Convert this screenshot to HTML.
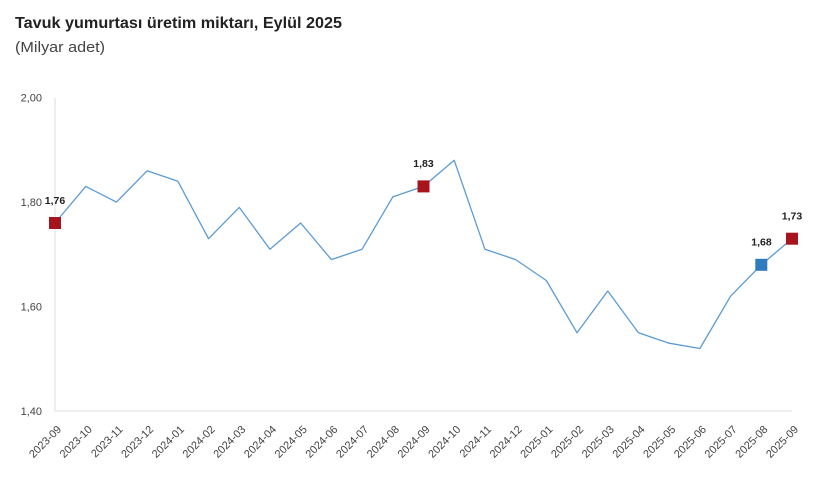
<!DOCTYPE html>
<html><head><meta charset="utf-8"><style>
html,body{margin:0;padding:0;background:#fff;}
svg{display:block;}
text{font-family:"Liberation Sans",Arial,sans-serif;}
</style></head><body>
<svg width="820" height="479" viewBox="0 0 820 479" xmlns="http://www.w3.org/2000/svg">
<rect width="820" height="479" fill="#fff"/>
<text x="15" y="28" font-size="15.5" font-weight="bold" fill="#222" textLength="327" lengthAdjust="spacingAndGlyphs">Tavuk yumurtası üretim miktarı, Eylül 2025</text>
<text x="15" y="52" font-size="15" fill="#444" textLength="90" lengthAdjust="spacingAndGlyphs">(Milyar adet)</text>
<line x1="55" y1="98" x2="55" y2="411" stroke="#e3e3e3" stroke-width="1.2"/>
<line x1="55" y1="411" x2="792" y2="411" stroke="#e3e3e3" stroke-width="1.2"/>
<g font-size="11" fill="#444" text-anchor="end">
<text x="42" y="101.5">2,00</text>
<text x="42" y="206">1,80</text>
<text x="42" y="310.5">1,60</text>
<text x="42" y="415">1,40</text>
</g>
<polyline fill="none" stroke="#5B9BD5" stroke-width="1.3" stroke-linejoin="round" points="
55,223.0 85.71,186.4 116.42,202.1 147.13,170.8 177.83,181.2 208.54,238.7 239.25,207.4 269.96,249.2 300.67,223.0 331.38,259.6 362.08,249.2 392.79,196.9 423.5,186.4 454.21,160.3 484.92,249.2 515.63,259.6 546.33,280.5 577.04,332.8 607.75,291.0 638.46,332.8 669.17,343.2 699.88,348.5 730.58,296.2 761.29,264.8 792,238.7"/>
<rect x="49" y="217" width="12" height="12" fill="#A8141C"/>
<rect x="417.5" y="180.4" width="12" height="12" fill="#A8141C"/>
<rect x="755.3" y="258.8" width="12" height="12" fill="#2E7BBE"/>
<rect x="786" y="232.7" width="12" height="12" fill="#A8141C"/>
<g font-size="10.5" font-weight="bold" fill="#222" text-anchor="middle">
<text x="55" y="204">1,76</text>
<text x="423.5" y="167">1,83</text>
<text x="761.5" y="245.5">1,68</text>
<text x="792" y="219.5">1,73</text>
</g>
<g font-size="11" fill="#444" text-anchor="end">
<text transform="translate(62,430) rotate(-45)">2023-09</text>
<text transform="translate(92.71,430) rotate(-45)">2023-10</text>
<text transform="translate(123.42,430) rotate(-45)">2023-11</text>
<text transform="translate(154.13,430) rotate(-45)">2023-12</text>
<text transform="translate(184.83,430) rotate(-45)">2024-01</text>
<text transform="translate(215.54,430) rotate(-45)">2024-02</text>
<text transform="translate(246.25,430) rotate(-45)">2024-03</text>
<text transform="translate(276.96,430) rotate(-45)">2024-04</text>
<text transform="translate(307.67,430) rotate(-45)">2024-05</text>
<text transform="translate(338.38,430) rotate(-45)">2024-06</text>
<text transform="translate(369.08,430) rotate(-45)">2024-07</text>
<text transform="translate(399.79,430) rotate(-45)">2024-08</text>
<text transform="translate(430.5,430) rotate(-45)">2024-09</text>
<text transform="translate(461.21,430) rotate(-45)">2024-10</text>
<text transform="translate(491.92,430) rotate(-45)">2024-11</text>
<text transform="translate(522.63,430) rotate(-45)">2024-12</text>
<text transform="translate(553.33,430) rotate(-45)">2025-01</text>
<text transform="translate(584.04,430) rotate(-45)">2025-02</text>
<text transform="translate(614.75,430) rotate(-45)">2025-03</text>
<text transform="translate(645.46,430) rotate(-45)">2025-04</text>
<text transform="translate(676.17,430) rotate(-45)">2025-05</text>
<text transform="translate(706.88,430) rotate(-45)">2025-06</text>
<text transform="translate(737.58,430) rotate(-45)">2025-07</text>
<text transform="translate(768.29,430) rotate(-45)">2025-08</text>
<text transform="translate(799,430) rotate(-45)">2025-09</text>
</g>
</svg>
</body></html>
